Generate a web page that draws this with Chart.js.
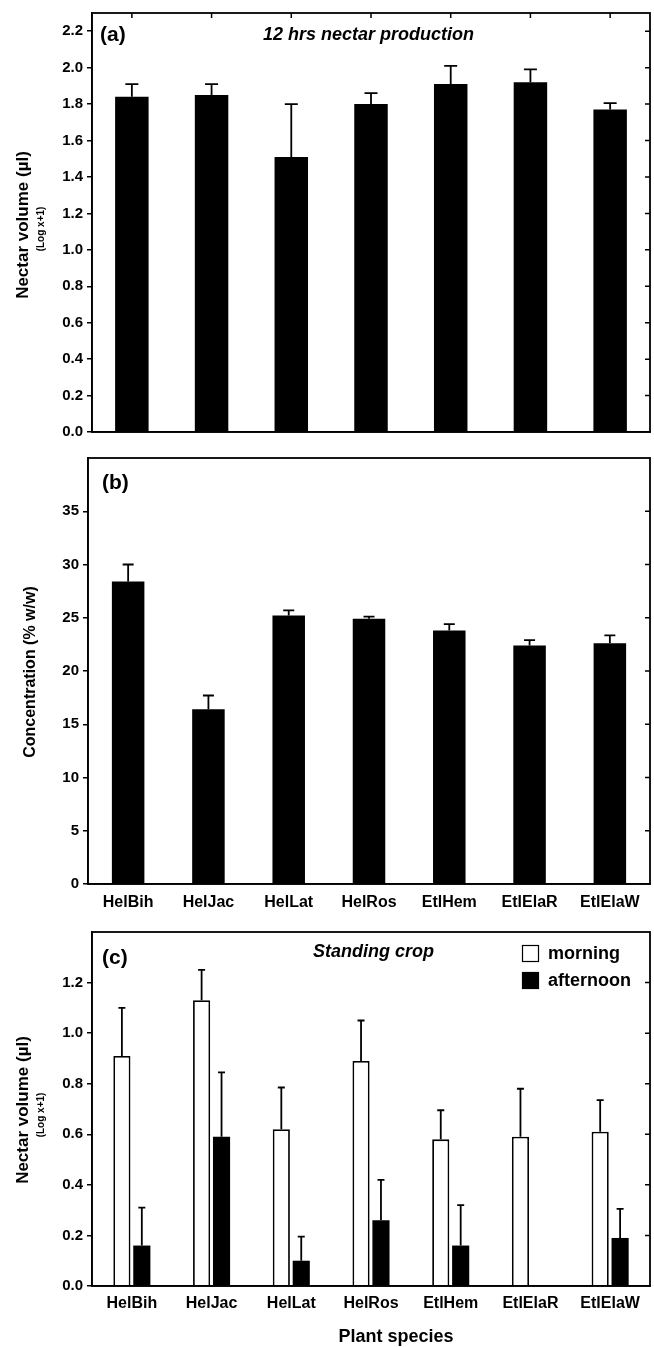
<!DOCTYPE html>
<html>
<head>
<meta charset="utf-8">
<script src="https://cdn.jsdelivr.net/npm/chart.js@4/dist/chart.umd.min.js"></script>
<style>
  html, body { margin: 0; padding: 0; background: #fff; }
  .panel { position: absolute; left: 0; }
</style>
</head>
<body>
<div class="panel" style="top:0px"><canvas id="ca" width="654" height="445"></canvas></div>
<div class="panel" style="top:445px"><canvas id="cb" width="654" height="465"></canvas></div>
<div class="panel" style="top:910px"><canvas id="cc" width="654" height="437"></canvas></div>
<script>
// ---------------- DATA ----------------
const categories = ['HelBih', 'HelJac', 'HelLat', 'HelRos', 'EtlHem', 'EtlElaR', 'EtlElaW'];

// (a) 12 hrs nectar production, log(x+1)
const productionMean = [1.84, 1.85, 1.51, 1.80, 1.91, 1.92, 1.77];
const productionSE   = [0.07, 0.06, 0.29, 0.06, 0.10, 0.07, 0.035];

// (b) concentration % w/w
const concentrationMean = [28.4, 16.4, 25.2, 24.9, 23.8, 22.4, 22.6];
const concentrationSE   = [1.6, 1.3, 0.5, 0.2, 0.6, 0.5, 0.75];

// (c) standing crop, log(x+1)
const morningMean   = [0.91, 1.13, 0.62, 0.89, 0.58, 0.59, 0.61];
const morningSE     = [0.19, 0.12, 0.165, 0.16, 0.115, 0.19, 0.125];
const afternoonMean = [0.16, 0.59, 0.10, 0.26, 0.16, null, 0.19];
const afternoonSE   = [0.15, 0.255, 0.095, 0.16, 0.16, null, 0.115];

const ticksA = [0, 0.2, 0.4, 0.6, 0.8, 1.0, 1.2, 1.4, 1.6, 1.8, 2.0, 2.2];
const ticksB = [0, 5, 10, 15, 20, 25, 30, 35];
const ticksC = [0, 0.2, 0.4, 0.6, 0.8, 1.0, 1.2];

// ---------------- STYLE ----------------
const FAM = "'Liberation Sans', Arial, Helvetica, sans-serif";
Chart.defaults.font.family = FAM;
Chart.defaults.color = '#000';

// ---------------- PLUGINS ----------------
const errorBars = {
  id: 'errorBars',
  afterDatasetsDraw(chart, args, opts) {
    const ctx = chart.ctx, ys = chart.scales.y;
    chart.data.datasets.forEach((ds, di) => {
      if (!ds.errors) return;
      const meta = chart.getDatasetMeta(di);
      meta.data.forEach((bar, i) => {
        const v = ds.data[i], e = ds.errors[i];
        if (v == null || e == null) return;
        const yTop = ys.getPixelForValue(v + e);
        const yBar = ys.getPixelForValue(v);
        ctx.save();
        ctx.strokeStyle = '#000';
        ctx.lineWidth = opts.lineWidth || 1.8;
        ctx.beginPath();
        ctx.moveTo(bar.x, yBar);
        ctx.lineTo(bar.x, yTop);
        ctx.moveTo(bar.x - opts.cap / 2, yTop);
        ctx.lineTo(bar.x + opts.cap / 2, yTop);
        ctx.stroke();
        ctx.restore();
      });
    });
  }
};

const frame = {
  id: 'frame',
  afterDraw(chart, args, opts) {
    const ctx = chart.ctx, a = chart.chartArea;
    ctx.save();
    ctx.strokeStyle = '#000';
    ctx.lineWidth = 1.8;
    ctx.strokeRect(a.left, a.top, a.right - a.left, a.bottom - a.top);
    ctx.beginPath();
    ctx.lineWidth = 1.5;
    chart.scales.y.ticks.forEach(t => {
      const y = chart.scales.y.getPixelForValue(t.value);
      if (y <= a.top + 1 || y >= a.bottom - 1) return;
      ctx.moveTo(a.right, y);
      ctx.lineTo(a.right - 5, y);
    });
    if (opts.topTicks) {
      const xs = chart.scales.x;
      xs.ticks.forEach((t, i) => {
        const x = xs.getPixelForTick(i);
        ctx.moveTo(x, a.top);
        ctx.lineTo(x, a.top + 5);
      });
    }
    ctx.stroke();
    ctx.restore();
  }
};

const texts = {
  id: 'texts',
  afterDraw(chart, args, opts) {
    const ctx = chart.ctx;
    (opts.items || []).forEach(it => {
      ctx.save();
      ctx.font = it.font;
      ctx.fillStyle = '#000';
      ctx.textAlign = it.align || 'left';
      ctx.textBaseline = 'middle';
      ctx.translate(it.x, it.y);
      if (it.rotate) ctx.rotate(it.rotate);
      ctx.fillText(it.text, 0, 0);
      ctx.restore();
    });
  }
};

const boxLegend = {
  id: 'boxLegend',
  afterDraw(chart, args, opts) {
    if (!opts.display) return;
    const ctx = chart.ctx;
    chart.data.datasets.forEach((ds, i) => {
      const y = opts.y + i * opts.rowGap;
      ctx.save();
      ctx.fillStyle = ds.backgroundColor;
      ctx.fillRect(opts.x, y, opts.size, opts.size);
      ctx.strokeStyle = '#000';
      ctx.lineWidth = 1.2;
      ctx.strokeRect(opts.x + 0.5, y + 0.5, opts.size - 1, opts.size - 1);
      ctx.fillStyle = '#000';
      ctx.font = opts.font;
      ctx.textBaseline = 'middle';
      ctx.textAlign = 'left';
      ctx.fillText(ds.label, opts.x + opts.size + 9, y + opts.size / 2 + 1);
      ctx.restore();
    });
  }
};

// ---------------- HELPERS ----------------
function yScale(min, max, ticks, width, decimals) {
  return {
    type: 'linear', min: min, max: max,
    afterFit(s) { s.width = width; },
    afterBuildTicks(s) { s.ticks = ticks.map(v => ({ value: v })); },
    ticks: {
      font: { size: 15, weight: 'bold' }, color: '#000', padding: 4,
      callback: v => decimals ? Number(v).toFixed(decimals) : String(v)
    },
    grid: { display: true, drawOnChartArea: false, drawTicks: true, tickLength: 5, color: '#000', lineWidth: 1.5 },
    border: { display: true, color: '#000', width: 1.5 }
  };
}
function xScale(height, showLabels, pad) {
  return {
    type: 'category',
    afterFit(s) { s.height = height; },
    ticks: { display: showLabels, font: { size: 16, weight: 'bold' }, color: '#000', padding: pad, maxRotation: 0, autoSkip: false },
    grid: { display: false, drawTicks: false },
    border: { display: true, color: '#000', width: 1.5 }
  };
}
const baseOpts = {
  responsive: false, animation: false, devicePixelRatio: 1,
};

// ---------------- PANEL (a) ----------------
new Chart(document.getElementById('ca'), {
  type: 'bar',
  data: {
    labels: categories,
    datasets: [{
      label: '12 hrs nectar production',
      data: productionMean, errors: productionSE,
      backgroundColor: '#000', borderColor: '#000', borderWidth: 0,
      barPercentage: 0.42, categoryPercentage: 1.0
    }]
  },
  options: Object.assign({}, baseOpts, {
    layout: { padding: { left: 0, right: 4, top: 8, bottom: 0 } },
    scales: { x: xScale(10, false, 0), y: yScale(0, 2.3, ticksA, 92, 1) },
    plugins: {
      legend: { display: false }, tooltip: { enabled: false },
      errorBars: { cap: 13 },
      frame: { topTicks: true },
      texts: { items: [
        { text: '(a)', x: 100, y: 35, font: "bold 21px " + FAM },
        { text: '12 hrs nectar production', x: 263, y: 35, font: "italic bold 18px " + FAM },
        { text: 'Nectar volume (µl)', x: 23, y: 225, font: "bold 17px " + FAM, align: 'center', rotate: -Math.PI / 2 },
        { text: '(Log x+1)', x: 41, y: 229, font: "bold 10px " + FAM, align: 'center', rotate: -Math.PI / 2 }
      ] }
    }
  }),
  plugins: [errorBars, frame, texts]
});

// ---------------- PANEL (b) ----------------
new Chart(document.getElementById('cb'), {
  type: 'bar',
  data: {
    labels: categories,
    datasets: [{
      label: 'Concentration',
      data: concentrationMean, errors: concentrationSE,
      backgroundColor: '#000', borderColor: '#000', borderWidth: 0,
      barPercentage: 0.405, categoryPercentage: 1.0
    }]
  },
  options: Object.assign({}, baseOpts, {
    layout: { padding: { left: 0, right: 4, top: 11, bottom: 0 } },
    scales: { x: xScale(26, true, 9), y: yScale(0, 40, ticksB, 88, 0) },
    plugins: {
      legend: { display: false }, tooltip: { enabled: false },
      errorBars: { cap: 11 },
      frame: { topTicks: false },
      texts: { items: [
        { text: '(b)', x: 102, y: 38, font: "bold 21px " + FAM },
        { text: 'Concentration (% w/w)', x: 31, y: 227, font: "bold 16px " + FAM, align: 'center', rotate: -Math.PI / 2 }
      ] }
    }
  }),
  plugins: [errorBars, frame, texts]
});

// ---------------- PANEL (c) ----------------
new Chart(document.getElementById('cc'), {
  type: 'bar',
  data: {
    labels: categories,
    datasets: [
      {
        label: 'morning',
        data: morningMean, errors: morningSE,
        backgroundColor: '#fff', borderColor: '#000', borderWidth: 1.8,
        barPercentage: 0.86, categoryPercentage: 0.5
      },
      {
        label: 'afternoon',
        data: afternoonMean, errors: afternoonSE,
        backgroundColor: '#000', borderColor: '#000', borderWidth: 0,
        barPercentage: 0.86, categoryPercentage: 0.5
      }
    ]
  },
  options: Object.assign({}, baseOpts, {
    layout: { padding: { left: 0, right: 4, top: 22, bottom: 0 } },
    scales: { x: xScale(61, true, 8), y: yScale(0, 1.4, ticksC, 92, 1) },
    plugins: {
      legend: { display: false }, tooltip: { enabled: false },
      errorBars: { cap: 7 },
      frame: { topTicks: false },
      boxLegend: { display: true, x: 522, y: 35, size: 17, rowGap: 27, font: "bold 18px " + FAM },
      texts: { items: [
        { text: '(c)', x: 102, y: 48, font: "bold 21px " + FAM },
        { text: 'Standing crop', x: 434, y: 42, font: "italic bold 18px " + FAM, align: 'right' },
        { text: 'Nectar volume (µl)', x: 23, y: 200, font: "bold 17px " + FAM, align: 'center', rotate: -Math.PI / 2 },
        { text: '(Log x+1)', x: 41, y: 205, font: "bold 10px " + FAM, align: 'center', rotate: -Math.PI / 2 },
        { text: 'Plant species', x: 396, y: 427, font: "bold 18px " + FAM, align: 'center' }
      ] }
    }
  }),
  plugins: [errorBars, frame, texts, boxLegend]
});
</script>
</body>
</html>
